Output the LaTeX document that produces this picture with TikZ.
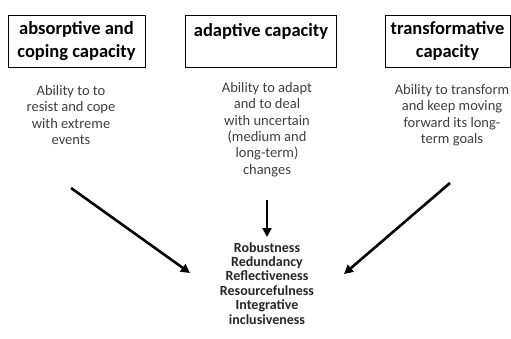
\documentclass[tikz,border=0pt]{standalone}
\usepackage{fontspec}
\setmainfont{Carlito}
\usetikzlibrary{arrows.meta, positioning}
\definecolor{descGray}{HTML}{3F3F3F}
\definecolor{listGray}{HTML}{262626}

\tikzset{
  capbox/.style={draw, line width=1pt, align=center, font=\fontsize{18.5}{23}\selectfont\bfseries,
    inner sep=0pt, minimum height=52pt},
  capdesc/.style={align=center, text=descGray, font=\fontsize{14.5}{16.4}\selectfont, inner sep=0pt},
  flowarrow/.style={line width=2.6pt, -{Triangle[length=9pt,width=9pt]}}
}

\begin{document}
\begin{tikzpicture}[x=1pt, y=-1pt]
    \useasboundingbox (0,0) rectangle (511,338);

    % the three capacities
    \node[capbox, minimum width=137pt] (absorb) at (76.5,41.5) {absorptive and\\coping capacity};
    \node[capbox, minimum width=151pt] (adapt) at (261,41) {adaptive capacity\\\mbox{}};
    \node[capbox, minimum width=125pt] (transform) at (447.5,41) {transformative\\capacity};

    % what each one means
    \node[capdesc, anchor=north] (absorbTxt) at (71,85) {Ability to to\\resist and cope\\with extreme\\events};
    \node[capdesc, anchor=north] (adaptTxt) at (267,82) {Ability to adapt\\and to deal\\with uncertain\\(medium and\\long-term)\\changes};
    \node[capdesc, anchor=north] (transformTxt) at (452,84) {Ability to transform\\and keep moving\\forward its long-\\term goals};

    % resilience qualities
    \node[align=center, text=listGray, inner sep=0pt, anchor=north,
      font=\fontsize{14}{14.4}\selectfont\bfseries] (qualities) at (267,242)
      {Robustness\\Redundancy\\Reflectiveness\\Resourcefulness\\Integrative\\inclusiveness};

    \coordinate (a1) at (71,188);
    \coordinate (a2) at (190,273);
    \coordinate (b1) at (267,200);
    \coordinate (b2) at (267,237);
    \coordinate (c1) at (450,183);
    \coordinate (c2) at (344,274);
    \draw[flowarrow] (a1) -- (a2);
    \draw[flowarrow] (b1) -- (b2);
    \draw[flowarrow] (c1) -- (c2);
\end{tikzpicture}
\end{document}
